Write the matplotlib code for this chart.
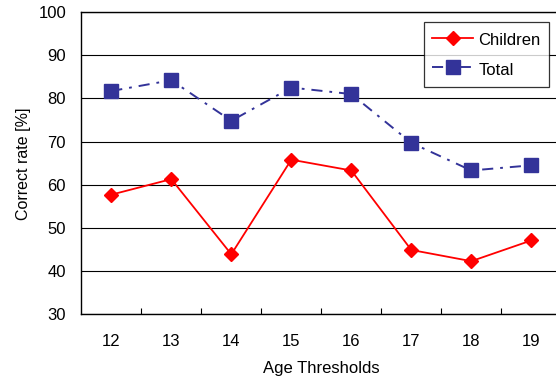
import matplotlib
matplotlib.use("Agg")
import matplotlib.pyplot as plt
from matplotlib.ticker import FixedLocator, NullFormatter

plt.rcParams['lines.scale_dashes'] = False
plt.rcParams['font.family'] = ['Liberation Sans', 'DejaVu Sans']

categories = ["12", "13", "14", "15", "16", "17", "18", "19"]
children = [57.7, 61.3, 43.9, 65.8, 63.3, 44.9, 42.3, 47.1]
total = [81.7, 84.2, 74.8, 82.5, 81.0, 69.7, 63.3, 64.5]
yticks = [30, 40, 50, 60, 70, 80, 90, 100]

W, H = 556, 379
fig = plt.figure(figsize=(W / 100, H / 100), dpi=100)
left, right, top, bottom = 81.3, 561.3, 12, 314.3
ax = fig.add_axes([left / W, 1 - bottom / H, (right - left) / W, (bottom - top) / H])

x = list(range(len(categories)))
ax.plot(x, children, color='#FF0000', lw=1.3, marker='D', ms=7.5,
        mfc='#FF0000', mec='#FF0000', label='Children', zorder=3)
ax.plot(x, total, color='#333399', lw=1.4, marker='s', ms=9.5,
        mfc='#333399', mec='#333399', linestyle=(0, (8, 5, 2, 5)),
        label='Total', zorder=3)

ax.set_xlim(-0.5, len(categories) - 0.5)
ax.set_ylim(30, 100)
ax.set_yticks(yticks)
ax.yaxis.grid(True, color='black', lw=0.8)
ax.set_axisbelow(True)
ax.tick_params(axis='y', length=0, pad=11, labelsize=12)

ax.xaxis.set_major_locator(FixedLocator([i + 0.5 for i in range(len(categories) - 1)]))
ax.xaxis.set_major_formatter(NullFormatter())
ax.xaxis.set_minor_locator(FixedLocator(x))
ax.set_xticklabels(categories, minor=True)
ax.tick_params(axis='x', which='major', direction='in', length=4, width=0.8)
ax.tick_params(axis='x', which='minor', length=0, pad=14.5, labelsize=12)

for s in ['left', 'bottom', 'top']:
    ax.spines[s].set_linewidth(1.0)
ax.spines['right'].set_visible(False)

ax.set_xlabel('Age Thresholds', fontsize=12, va='center', ha='center')
ax.xaxis.set_label_coords((321 - left) / (right - left), (bottom - 368) / (bottom - top))
ax.set_ylabel('Correct rate [%]', fontsize=11.5, va='center', ha='center')
ax.yaxis.set_label_coords((24 - left) / (right - left), (bottom - 164) / (bottom - top))

leg = ax.legend(loc='upper left', bbox_to_anchor=((424 - left) / (right - left), 1 - (22 - top) / (bottom - top)),
                frameon=True, fancybox=False, edgecolor='black', fontsize=12,
                handlelength=2.45, handleheight=1.3, borderpad=0.5, labelspacing=0.7,
                handletextpad=0.3, borderaxespad=0)
leg.get_frame().set_linewidth(0.9)

fig.savefig('out.png', dpi=100)
